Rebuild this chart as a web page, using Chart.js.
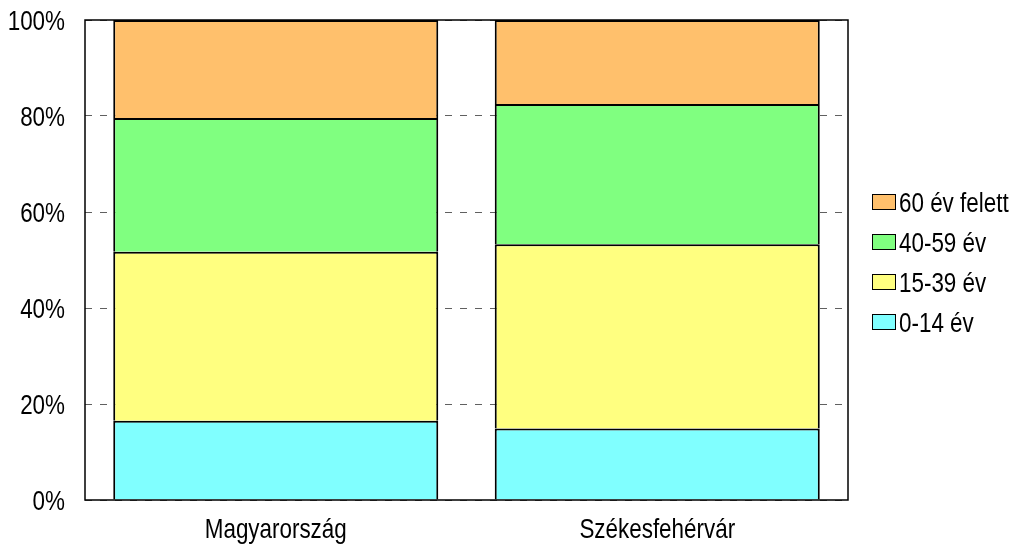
<!DOCTYPE html>
<html>
<head>
<meta charset="utf-8">
<script src="https://cdn.jsdelivr.net/npm/chart.js@4/dist/chart.umd.min.js"></script>
<style>
html,body{margin:0;padding:0;background:#fff;}
#wrap{width:1014px;height:547px;position:relative;}
</style>
</head>
<body>
<div id="wrap"><canvas id="c" width="1014" height="547"></canvas></div>
<script>
const categories = ["Magyarország", "Székesfehérvár"];
const seriesLabels = ["0-14 év", "15-39 év", "40-59 év", "60 év felett"];
const age0_14 = [16.5, 14.9];
const age15_39 = [35.2, 38.4];
const age40_59 = [27.9, 29.2];
const age60plus = [20.4, 17.5];
const yTicks = [0, 20, 40, 60, 80, 100];
const colors = ["#80FFFF", "#FFFF80", "#80FF80", "#FFC06C"];

const seriesValues = [age0_14, age15_39, age40_59, age60plus];
const FONT = "'Liberation Sans', Arial, sans-serif";
const FS = 27.5;
const SQUEEZE = 0.815;

function narrowText(ctx, text, x, y, align) {
  ctx.save();
  ctx.translate(x, y);
  ctx.scale(SQUEEZE, 1);
  ctx.textAlign = align;
  ctx.textBaseline = 'alphabetic';
  ctx.fillText(text, 0, 0);
  ctx.restore();
}

const frameAndLegend = {
  id: 'frameAndLegend',
  afterDatasetsDraw(chart) {
    const ctx = chart.ctx;
    const a = chart.chartArea;
    ctx.save();
    ctx.strokeStyle = '#000';
    ctx.lineWidth = 1.5;
    ctx.strokeRect(a.left, a.top, a.right - a.left, a.bottom - a.top);
    ctx.restore();
  },
  afterDraw(chart) {
    const ctx = chart.ctx;
    const ds = chart.data.datasets;
    const xs = chart.scales.x, ys = chart.scales.y;
    ctx.save();
    ctx.font = FS + "px " + FONT;
    ctx.fillStyle = '#000';
    // y tick labels
    ys.ticks.forEach(t => {
      narrowText(ctx, t.label, chart.chartArea.left - 20, ys.getPixelForValue(t.value) + 10, 'right');
    });
    // x tick labels
    xs.ticks.forEach((t, i) => {
      narrowText(ctx, chart.data.labels[i], xs.getPixelForTick(i), 537.5, 'center');
    });
    // legend
    let k = 0;
    for (let i = ds.length - 1; i >= 0; i--) {
      const y = 194.5 + k * 40;
      ctx.fillStyle = ds[i].backgroundColor;
      ctx.fillRect(872.5, y, 23, 15);
      ctx.strokeStyle = '#000';
      ctx.lineWidth = 1;
      ctx.strokeRect(872.5, y, 23, 15);
      ctx.fillStyle = '#000';
      narrowText(ctx, ds[i].label, 899, y + 17.5, 'left');
      k++;
    }
    ctx.restore();
  }
};

new Chart(document.getElementById('c'), {
  type: 'bar',
  data: {
    labels: categories,
    datasets: seriesLabels.map((lab, i) => ({
      label: lab,
      data: seriesValues[i],
      backgroundColor: colors[i],
      borderColor: '#000',
      borderWidth: 2,
      borderSkipped: 'start',
      categoryPercentage: 1.0,
      barPercentage: 0.852
    }))
  },
  options: {
    responsive: false,
    animation: false,
    devicePixelRatio: 1,
    layout: { padding: { left: 9, right: 166, top: 20, bottom: 0 } },
    plugins: { legend: { display: false }, tooltip: { enabled: false } },
    scales: {
      x: {
        stacked: true,
        grid: { display: false, drawTicks: false },
        border: { display: false },
        ticks: { display: false },
        afterFit(s) { s.height = 47; s.paddingLeft = 0; s.paddingRight = 0; }
      },
      y: {
        stacked: true,
        min: 0, max: 100,
        afterBuildTicks(s) { s.ticks = yTicks.map(v => ({ value: v })); },
        grid: { color: '#606060', lineWidth: 1, drawTicks: false },
        border: { display: false, dash: [7, 8] },
        ticks: { display: false, callback: v => v + '%' },
        afterFit(s) { s.width = 76; s.paddingTop = 0; s.paddingBottom = 0; }
      }
    }
  },
  plugins: [frameAndLegend]
});
</script>
</body>
</html>
